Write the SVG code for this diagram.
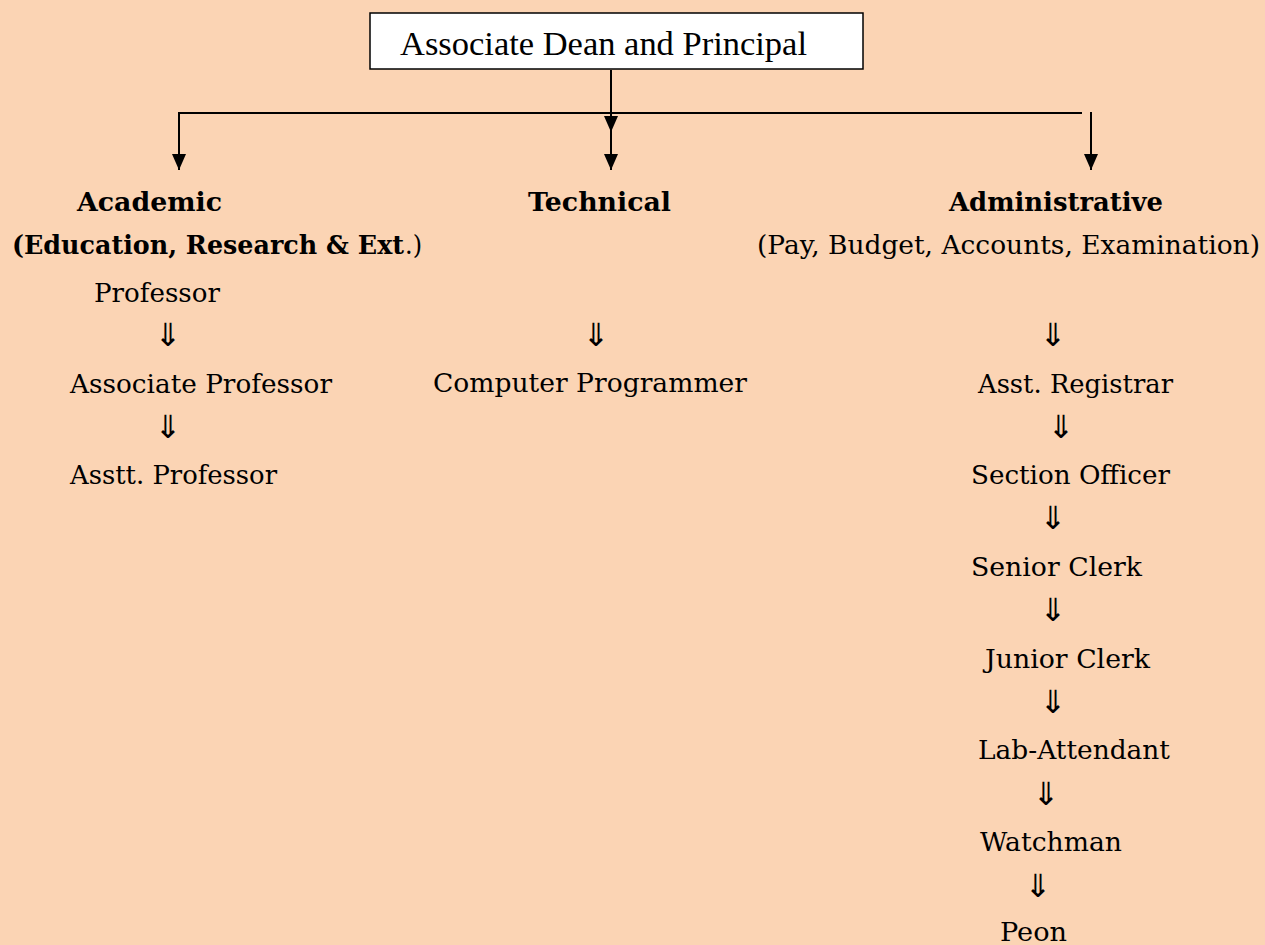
<svg xmlns="http://www.w3.org/2000/svg" width="1265" height="945" viewBox="0 0 1265 945">
<defs>
<marker id="ah" viewBox="0 0 16 14" refX="16" refY="7" markerWidth="16" markerHeight="14" markerUnits="userSpaceOnUse" orient="auto">
<path d="M0,0 L16,7 L0,14 z" fill="#000"/>
</marker>
<style>
.t{font-family:"DejaVu Serif","Liberation Serif",serif;font-size:26px;fill:#000}
.b{font-weight:bold}
.ar{font-family:"DejaVu Sans",sans-serif;font-size:32px;fill:#000;text-anchor:middle}
.ln{stroke:#000;stroke-width:2;fill:none}
</style>
</defs>
<rect width="1265" height="945" fill="#FBD4B4"/>
<g id="connectors">
<line class="ln" x1="611" y1="70" x2="611" y2="132" marker-end="url(#ah)"/>
<line class="ln" x1="611" y1="113" x2="611" y2="170" marker-end="url(#ah)"/>
<polyline class="ln" points="1082,113 179,113 179,170" marker-end="url(#ah)"/>
<line class="ln" x1="1091" y1="112" x2="1091" y2="170" marker-end="url(#ah)"/>
</g>
<g id="root">
<rect x="370" y="13" width="493" height="56" fill="#fff" stroke="#000" stroke-width="1.5"/>
<text x="400" y="55" font-family="Liberation Serif, serif" font-size="33" textLength="407" lengthAdjust="spacingAndGlyphs">Associate Dean and Principal</text>
</g>
<g id="academic">
<text class="t b" x="77" y="211" textLength="145" lengthAdjust="spacingAndGlyphs">Academic</text>
<text class="t b" x="12" y="254" textLength="392" lengthAdjust="spacingAndGlyphs">(Education, Research &amp; Ext</text>
<text class="t" x="405" y="254" textLength="17" lengthAdjust="spacingAndGlyphs">.)</text>
</g>
<g id="professor"><text class="t" x="94" y="302" textLength="126" lengthAdjust="spacingAndGlyphs">Professor</text></g>
<g id="assoc-professor"><text class="t" x="70" y="393" textLength="262" lengthAdjust="spacingAndGlyphs">Associate Professor</text></g>
<g id="asstt-professor"><text class="t" x="70" y="484" textLength="207" lengthAdjust="spacingAndGlyphs">Asstt. Professor</text></g>
<g id="technical"><text class="t b" x="528" y="211" textLength="143" lengthAdjust="spacingAndGlyphs">Technical</text></g>
<g id="computer-programmer"><text class="t" x="433" y="392" textLength="314" lengthAdjust="spacingAndGlyphs">Computer Programmer</text></g>
<g id="administrative">
<text class="t b" x="949" y="211" textLength="214" lengthAdjust="spacingAndGlyphs">Administrative</text>
<text class="t" x="757" y="254" textLength="503" lengthAdjust="spacingAndGlyphs">(Pay, Budget, Accounts, Examination)</text>
</g>
<g id="asst-registrar"><text class="t" x="978" y="393" textLength="195" lengthAdjust="spacingAndGlyphs">Asst. Registrar</text></g>
<g id="section-officer"><text class="t" x="971" y="484" textLength="199" lengthAdjust="spacingAndGlyphs">Section Officer</text></g>
<g id="senior-clerk"><text class="t" x="971" y="576" textLength="171" lengthAdjust="spacingAndGlyphs">Senior Clerk</text></g>
<g id="junior-clerk"><text class="t" x="985" y="668" textLength="165" lengthAdjust="spacingAndGlyphs">Junior Clerk</text></g>
<g id="lab-attendant"><text class="t" x="978" y="759" textLength="192" lengthAdjust="spacingAndGlyphs">Lab-Attendant</text></g>
<g id="watchman"><text class="t" x="980" y="851" textLength="142" lengthAdjust="spacingAndGlyphs">Watchman</text></g>
<g id="peon"><text class="t" x="1000" y="941" textLength="67" lengthAdjust="spacingAndGlyphs">Peon</text></g>
<g id="hierarchy-arrows">
<text class="ar" x="168" y="346">⇓</text>
<text class="ar" x="168" y="438">⇓</text>
<text class="ar" x="596" y="346">⇓</text>
<text class="ar" x="1053" y="346">⇓</text>
<text class="ar" x="1061" y="438">⇓</text>
<text class="ar" x="1053" y="529">⇓</text>
<text class="ar" x="1053" y="621">⇓</text>
<text class="ar" x="1053" y="713">⇓</text>
<text class="ar" x="1046" y="805">⇓</text>
<text class="ar" x="1038" y="897">⇓</text>
</g>
</svg>
